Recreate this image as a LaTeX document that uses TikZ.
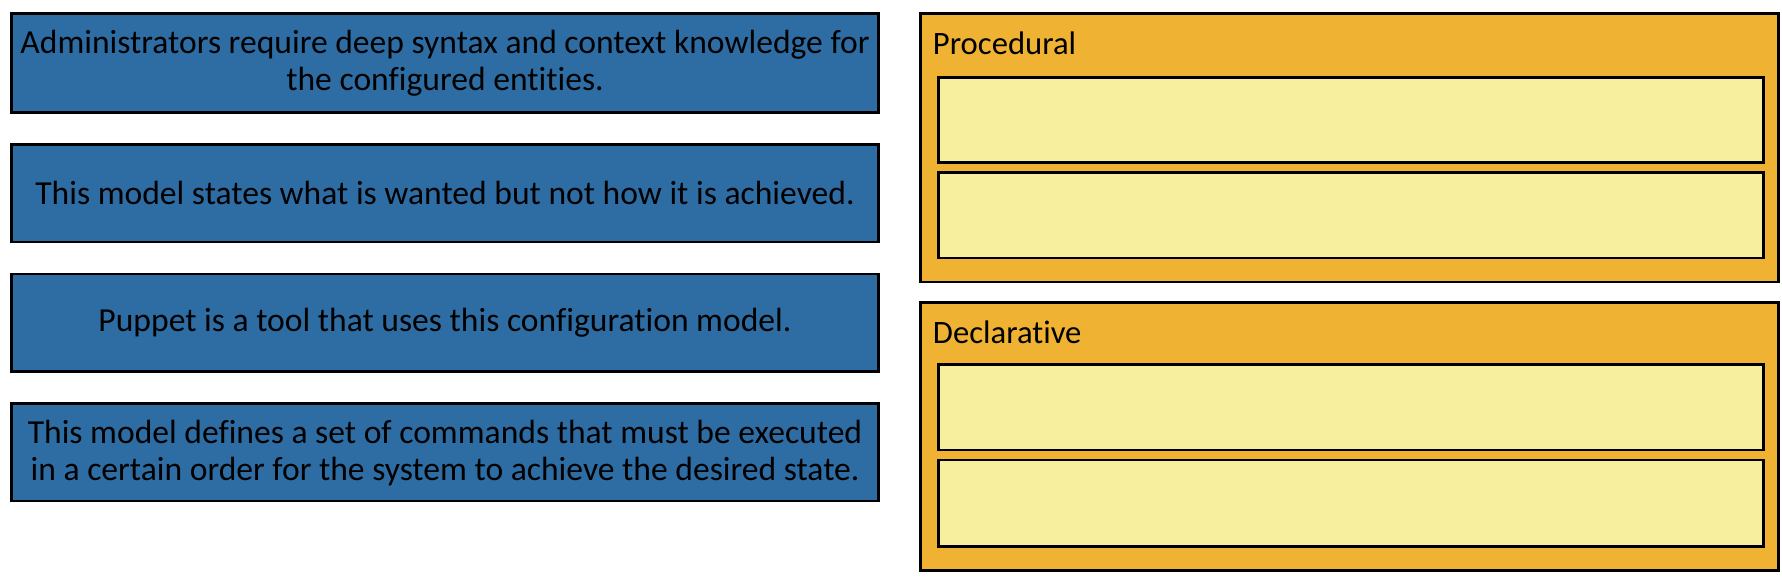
\documentclass[tikz,border=0pt]{standalone}
\usepackage{fontspec}
\setmainfont[Ligatures=NoCommon]{Carlito}

\begin{document}
\tikzset{every picture/.style={line width=0.75pt}}

\begin{tikzpicture}[x=0.75pt,y=0.75pt,yscale=-1,xscale=1]
\useasboundingbox (0,0) rectangle (1782,576);

%Shape: Rectangle [id:blue1] 
\draw  [fill={rgb, 255:red, 46; green, 109; blue, 164 }  ,fill opacity=1 ][line width=2]  (11.5,13.6) -- (878.5,13.6) -- (878.5,112.5) -- (11.5,112.5) -- cycle ;
%Shape: Rectangle [id:blue2] 
\draw  [fill={rgb, 255:red, 46; green, 109; blue, 164 }  ,fill opacity=1 ][line width=2]  (11.5,144.3) -- (878.5,144.3) -- (878.5,242) -- (11.5,242) -- cycle ;
%Shape: Rectangle [id:blue3] 
\draw  [fill={rgb, 255:red, 46; green, 109; blue, 164 }  ,fill opacity=1 ][line width=2]  (11.5,274) -- (878.5,274) -- (878.5,371.6) -- (11.5,371.6) -- cycle ;
%Shape: Rectangle [id:blue4] 
\draw  [fill={rgb, 255:red, 46; green, 109; blue, 164 }  ,fill opacity=1 ][line width=2]  (11.5,403.5) -- (878.5,403.5) -- (878.5,501) -- (11.5,501) -- cycle ;

%Shape: Rectangle [id:panel1] 
\draw  [fill={rgb, 255:red, 240; green, 178; blue, 51 }  ,fill opacity=1 ][line width=2]  (920.6,13.6) -- (1778.6,13.6) -- (1778.6,282) -- (920.6,282) -- cycle ;
%Shape: Rectangle [id:slot11] 
\draw  [fill={rgb, 255:red, 247; green, 238; blue, 158 }  ,fill opacity=1 ][line width=2]  (938.8,77.3) -- (1763.8,77.3) -- (1763.8,162.5) -- (938.8,162.5) -- cycle ;
%Shape: Rectangle [id:slot12] 
\draw  [fill={rgb, 255:red, 247; green, 238; blue, 158 }  ,fill opacity=1 ][line width=2]  (938.8,172.7) -- (1763.8,172.7) -- (1763.8,258) -- (938.8,258) -- cycle ;

%Shape: Rectangle [id:panel2] 
\draw  [fill={rgb, 255:red, 240; green, 178; blue, 51 }  ,fill opacity=1 ][line width=2]  (920.6,302.3) -- (1778.6,302.3) -- (1778.6,570.5) -- (920.6,570.5) -- cycle ;
%Shape: Rectangle [id:slot21] 
\draw  [fill={rgb, 255:red, 247; green, 238; blue, 158 }  ,fill opacity=1 ][line width=2]  (938.8,364.8) -- (1763.8,364.8) -- (1763.8,450) -- (938.8,450) -- cycle ;
%Shape: Rectangle [id:slot22] 
\draw  [fill={rgb, 255:red, 247; green, 238; blue, 158 }  ,fill opacity=1 ][line width=2]  (938.8,460) -- (1763.8,460) -- (1763.8,546.7) -- (938.8,546.7) -- cycle ;

% Text Node
\draw (445,63.5) node (syntax) [align=center, font=\fontsize{25.2}{27.5}\selectfont] {Administrators require deep syntax and context knowledge for\\the configured entities.};
% Text Node
\draw (445,193) node (wanted) [align=center, font=\fontsize{25.2}{27.5}\selectfont] {This model states what is wanted but not how it is achieved.};
% Text Node
\draw (445,322.5) node (puppet) [align=center, font=\fontsize{25.2}{27.5}\selectfont] {Puppet is a tool that uses this configuration model.};
% Text Node
\draw (445,453) node (commands) [align=center, font=\fontsize{25.2}{27.5}\selectfont] {This model defines a set of commands that must be executed\\in a certain order for the system to achieve the desired state.};
% Text Node
\draw (928,43) node (procedural) [anchor=west, font=\fontsize{24.5}{26}\selectfont] {Procedural};
% Text Node
\draw (928,332) node (declarative) [anchor=west, font=\fontsize{24.5}{26}\selectfont] {Declarative};

\end{tikzpicture}
\end{document}
